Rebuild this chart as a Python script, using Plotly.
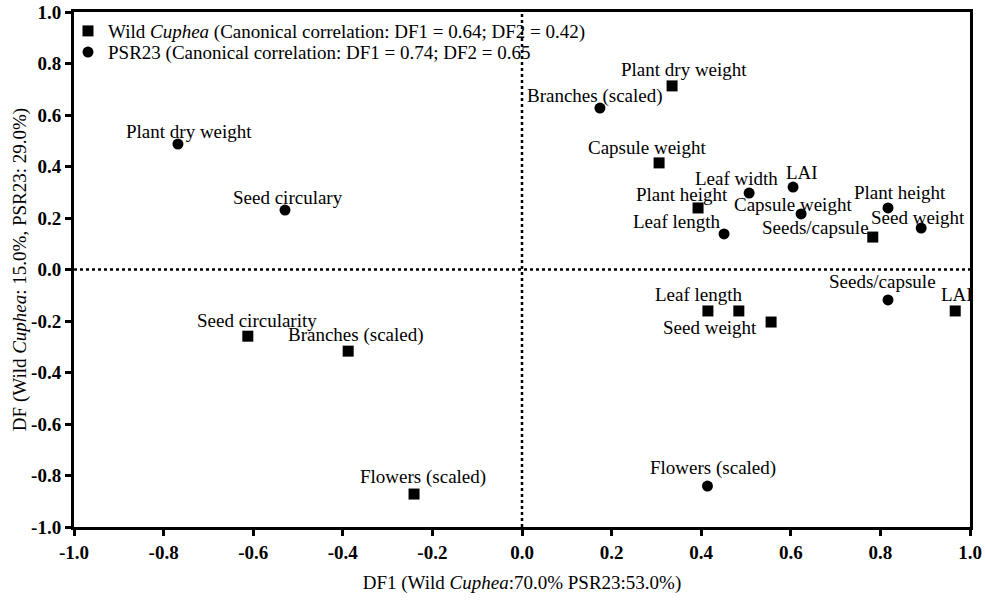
import plotly.graph_objects as go

# ---------------- data ----------------
wild_labels = ["Plant dry weight", "Capsule weight", "Plant height", "Seeds/capsule",
               "Leaf length", "Seed weight", "", "LAI",
               "Seed circularity", "Branches (scaled)", "Flowers (scaled)"]
wild_df1 = [0.335, 0.306, 0.393, 0.783, 0.415, 0.484, 0.556, 0.967, -0.612, -0.388, -0.241]
wild_df2 = [0.713, 0.414, 0.239, 0.126, -0.161, -0.161, -0.204, -0.161, -0.259, -0.317, -0.872]

psr_labels = ["Branches (scaled)", "Leaf width", "LAI", "Capsule weight", "Plant height",
              "Seed weight", "Leaf length", "Seeds/capsule", "Flowers (scaled)",
              "Plant dry weight", "Seed circulary"]
psr_df1 = [0.174, 0.507, 0.605, 0.623, 0.817, 0.891, 0.451, 0.817, 0.414, -0.768, -0.529]
psr_df2 = [0.627, 0.297, 0.320, 0.216, 0.239, 0.161, 0.138, -0.118, -0.841, 0.487, 0.231]

tick_vals = [-1.0, -0.8, -0.6, -0.4, -0.2, 0.0, 0.2, 0.4, 0.6, 0.8, 1.0]
tick_text = ["-1.0", "-0.8", "-0.6", "-0.4", "-0.2", "0.0", "0.2", "0.4", "0.6", "0.8", "1.0"]

wild_name = "Wild <i>Cuphea</i> (Canonical correlation: DF1 = 0.64; DF2 = 0.42)"
psr_name = "PSR23 (Canonical correlation: DF1 = 0.74; DF2 = 0.65"
x_title = "DF1 (Wild <i>Cuphea</i>:70.0% PSR23:53.0%)"
y_title = "DF (Wild <i>Cuphea</i>: 15.0%, PSR23: 29.0%)"

# label offsets (pixels, text centre relative to marker; +y is down)
wild_offsets = [(12, -16), (-12, -15), (-16, -13), (-57, -10), (-9, -16), (-29, 17),
                (0, 0), (2, -16), (9, -16), (8, -16), (9, -17)]
psr_offsets = [(-5, -12), (-13, -15), (9, -15), (-8, -9), (12, -15), (-3, -11),
               (-47, -12), (-6, -18), (6, -18), (11, -13), (3, -13)]

FONT = "Liberation Serif, Times New Roman, serif"
FS = 19

fig = go.Figure()
fig.add_trace(go.Scatter(x=wild_df1, y=wild_df2, mode="markers", name=wild_name,
                         legend="legend",
                         marker=dict(symbol="square", size=11, color="black")))
fig.add_trace(go.Scatter(x=psr_df1, y=psr_df2, mode="markers", name=psr_name,
                         legend="legend2",
                         marker=dict(symbol="circle", size=11, color="black")))

for labels, xs, ys, offs in [(wild_labels, wild_df1, wild_df2, wild_offsets),
                             (psr_labels, psr_df1, psr_df2, psr_offsets)]:
    for lab, x, y, (dx, dy) in zip(labels, xs, ys, offs):
        if not lab:
            continue
        fig.add_annotation(x=x, y=y, text=lab, showarrow=False,
                           xshift=dx, yshift=-dy,
                           font=dict(family=FONT, size=FS, color="black"))

# zero reference lines
fig.add_shape(type="line", x0=0, x1=0, y0=-1, y1=1, xref="x", yref="y",
              line=dict(color="black", width=2.5, dash="3px,3px"), layer="below")
fig.add_shape(type="line", x0=-1, x1=1, y0=0, y1=0, xref="x", yref="y",
              line=dict(color="black", width=2.5, dash="3px,3px"), layer="below")

axis_common = dict(range=[-1, 1], tickvals=tick_vals, ticktext=tick_text,
                   showgrid=False, zeroline=False, showline=True, linecolor="black",
                   linewidth=3, mirror=True, ticks="outside", ticklen=6, tickwidth=2.5,
                   tickcolor="black", automargin=False,
                   tickfont=dict(family=FONT, size=FS, color="black", weight="bold"))

legend_common = dict(xanchor="left", yanchor="middle", bgcolor="rgba(0,0,0,0)",
                     font=dict(family=FONT, size=FS, color="black"), itemwidth=30)

fig.update_layout(
    template="none",
    width=985, height=601,
    margin=dict(l=74, r=15, t=12, b=74),
    plot_bgcolor="white", paper_bgcolor="white",
    font=dict(family=FONT, size=FS, color="black"),
    xaxis=dict(**axis_common, title=dict(text=x_title, font=dict(family=FONT, size=FS), standoff=14)),
    yaxis=dict(**axis_common, title=dict(text=y_title, font=dict(family=FONT, size=FS), standoff=0)),
    legend=dict(x=-0.0067, y=0.963, **legend_common),
    legend2=dict(x=-0.0067, y=0.922, **legend_common),
    showlegend=True,
)

# remove the default 8px page margin so the figure fills the 985x601 window exactly
fig.write_html("out.html", config={"displayModeBar": False},
               post_script="document.body.style.margin='0';document.body.style.overflow='hidden';")
